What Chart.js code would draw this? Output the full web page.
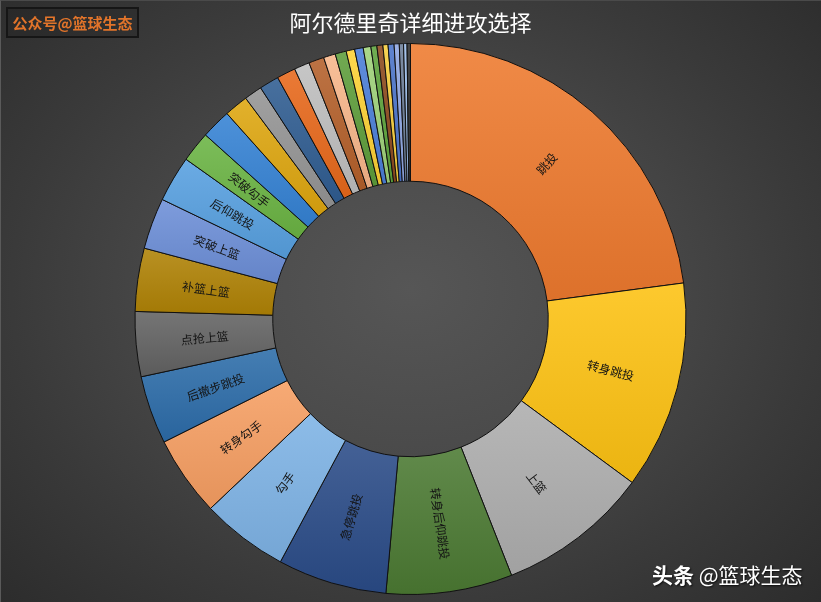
<!DOCTYPE html>
<html>
<head>
<meta charset="utf-8">
<script src="https://cdn.jsdelivr.net/npm/chart.js@4.4.1/dist/chart.umd.min.js"></script>
<style>
  html, body { margin: 0; padding: 0; }
  body { width: 821px; height: 602px; overflow: hidden; }
  #wrap {
    position: relative; width: 821px; height: 602px; box-sizing: border-box;
    background: radial-gradient(ellipse 75% 80% at 50% 48%, #565656 0%, #4a4a4a 35%, #3a3a3a 65%, #292929 100%);
    border-left: 1px solid #5a5a5a; border-top: 1px solid #4a4a4a;
  }
  canvas { position: absolute; left: 0; top: 0; }
  #tag {
    position: absolute; left: 5px; top: 6px; width: 133px; height: 31px; box-sizing: border-box;
    border: 2px solid #161616; background: rgba(0,0,0,0.12);
    color: #E2742A; font: bold 15px "Noto Sans CJK SC", sans-serif; line-height: 27px; text-align: center;
  }
  #mark {
    position: absolute; left: 651px; top: 558px; color: #fff;
    font: 21px "Noto Sans CJK SC", sans-serif; text-shadow: 1px 1px 2px rgba(0,0,0,0.8); white-space: nowrap;
  }
  #mark b { font-weight: bold; }
</style>
</head>
<body>
<div id="wrap">
  <canvas id="c" width="821" height="602"></canvas>
  <div id="tag">公众号@篮球生态</div>
  <div id="mark"><b>头条</b> @篮球生态</div>
</div>
<script>
const chartTitle = "阿尔德里奇详细进攻选择";
const categories = [
  "跳投", "转身跳投", "上篮", "转身后仰跳投", "急停跳投", "勾手", "转身勾手",
  "后撤步跳投", "点抢上篮", "补篮上篮", "突破上篮", "后仰跳投", "突破勾手",
  "其他1", "其他2", "其他3", "其他4", "其他5", "其他6", "其他7", "其他8", "其他9", "其他10",
  "其他11", "其他12", "其他13", "其他14", "其他15", "其他16", "其他17", "其他18", "其他19", "其他20"
];
const shares = [
  22.9, 12.2, 8.9, 7.4, 6.4, 5.1, 4.7,
  4.0, 3.8, 3.7, 3.0, 2.7, 1.8,
  1.75, 1.4, 1.05, 1.15, 1.1, 0.9, 0.9, 0.7, 0.65, 0.5,
  0.5, 0.45, 0.35, 0.35, 0.3, 0.35, 0.3, 0.25, 0.2, 0.2
];
const labeledCategories = categories.slice(0, 13);
const sliceColors = [
  "#EE7A2E", "#FDC212", "#ADADAD", "#4B7A33", "#2A4B88", "#7EB3E5", "#F69E62",
  "#2C6CA9", "#626262", "#AF8205", "#6C8ED7", "#57A0E0", "#6AB443",
  "#3582D4", "#DEA60F", "#949494", "#2F5D91", "#E7681B", "#BEBEBE", "#B4602A", "#F7B68A", "#5E9D3A", "#FDD135",
  "#4A7ED7", "#9ED179", "#5CA33B", "#8D4A1D", "#F6CD3C", "#4A73C8", "#8EA6E2", "#6C7E98", "#9ABBE7", "#2E2E2E"
];

function shade(hex, amt) {
  const n = parseInt(hex.slice(1), 16);
  let r = (n >> 16) & 255, g = (n >> 8) & 255, b = n & 255;
  const f = c => amt >= 0 ? Math.round(c + (255 - c) * amt) : Math.round(c * (1 + amt));
  return `rgb(${f(r)},${f(g)},${f(b)})`;
}

function sliceFill(ctx) {
  const chart = ctx.chart, area = chart.chartArea, i = ctx.dataIndex;
  const base = sliceColors[i];
  if (!area) return base;
  const total = shares.reduce((a, b) => a + b, 0);
  let before = 0;
  for (let k = 0; k < i; k++) before += shares[k];
  const a0 = -Math.PI / 2 + before / total * 2 * Math.PI;
  const a1 = a0 + shares[i] / total * 2 * Math.PI;
  const cy = (area.top + area.bottom) / 2;
  const R = (Math.min(area.width, area.height) - 1) / 2, r = R * 0.5;
  let minY = Infinity, maxY = -Infinity;
  for (let s = 0; s <= 24; s++) {
    const a = a0 + (a1 - a0) * s / 24;
    for (const rad of [R, r]) {
      const y = cy + Math.sin(a) * rad;
      minY = Math.min(minY, y); maxY = Math.max(maxY, y);
    }
  }
  if (maxY - minY < 1) maxY = minY + 1;
  const g = chart.ctx.createLinearGradient(0, minY, 0, maxY);
  g.addColorStop(0, shade(base, 0.12));
  g.addColorStop(1, shade(base, -0.07));
  return g;
}

const sliceLabels = {
  id: "sliceLabels",
  afterDatasetsDraw(chart) {
    const meta = chart.getDatasetMeta(0);
    const c = chart.ctx;
    c.save();
    c.font = '12px "Noto Sans CJK SC", sans-serif';
    c.fillStyle = "#141414";
    c.textAlign = "center";
    c.textBaseline = "middle";
    meta.data.forEach((arc, i) => {
      if (!labeledCategories.includes(categories[i])) return;
      const p = arc.getProps(["x", "y", "startAngle", "endAngle", "innerRadius", "outerRadius"], true);
      const mid = (p.startAngle + p.endAngle) / 2;
      const rr = (p.innerRadius + p.outerRadius) / 2;
      const px = p.x + Math.cos(mid) * rr, py = p.y + Math.sin(mid) * rr;
      let rot = mid;
      if (Math.cos(mid) < 0) rot += Math.PI;
      c.save();
      c.translate(px, py);
      c.rotate(rot);
      c.fillText(categories[i], 0, 0);
      c.restore();
    });
    c.restore();
  }
};

new Chart(document.getElementById("c"), {
  type: "doughnut",
  data: {
    labels: categories,
    datasets: [{
      data: shares,
      backgroundColor: sliceFill,
      borderColor: "#111111",
      borderWidth: 1,
      borderJoinStyle: "miter"
    }]
  },
  options: {
    responsive: false,
    animation: false,
    cutout: "50%",
    layout: { padding: { top: 0, bottom: 8, left: 0, right: 2 } },
    plugins: {
      legend: { display: false },
      tooltip: { enabled: false },
      title: {
        display: true,
        text: chartTitle,
        color: "#ffffff",
        font: { family: '"Noto Sans CJK SC", sans-serif', size: 22, weight: "normal", lineHeight: 1.2 },
        padding: { top: 8, bottom: 7.6 }
      }
    }
  },
  plugins: [sliceLabels]
});
</script>
</body>
</html>
